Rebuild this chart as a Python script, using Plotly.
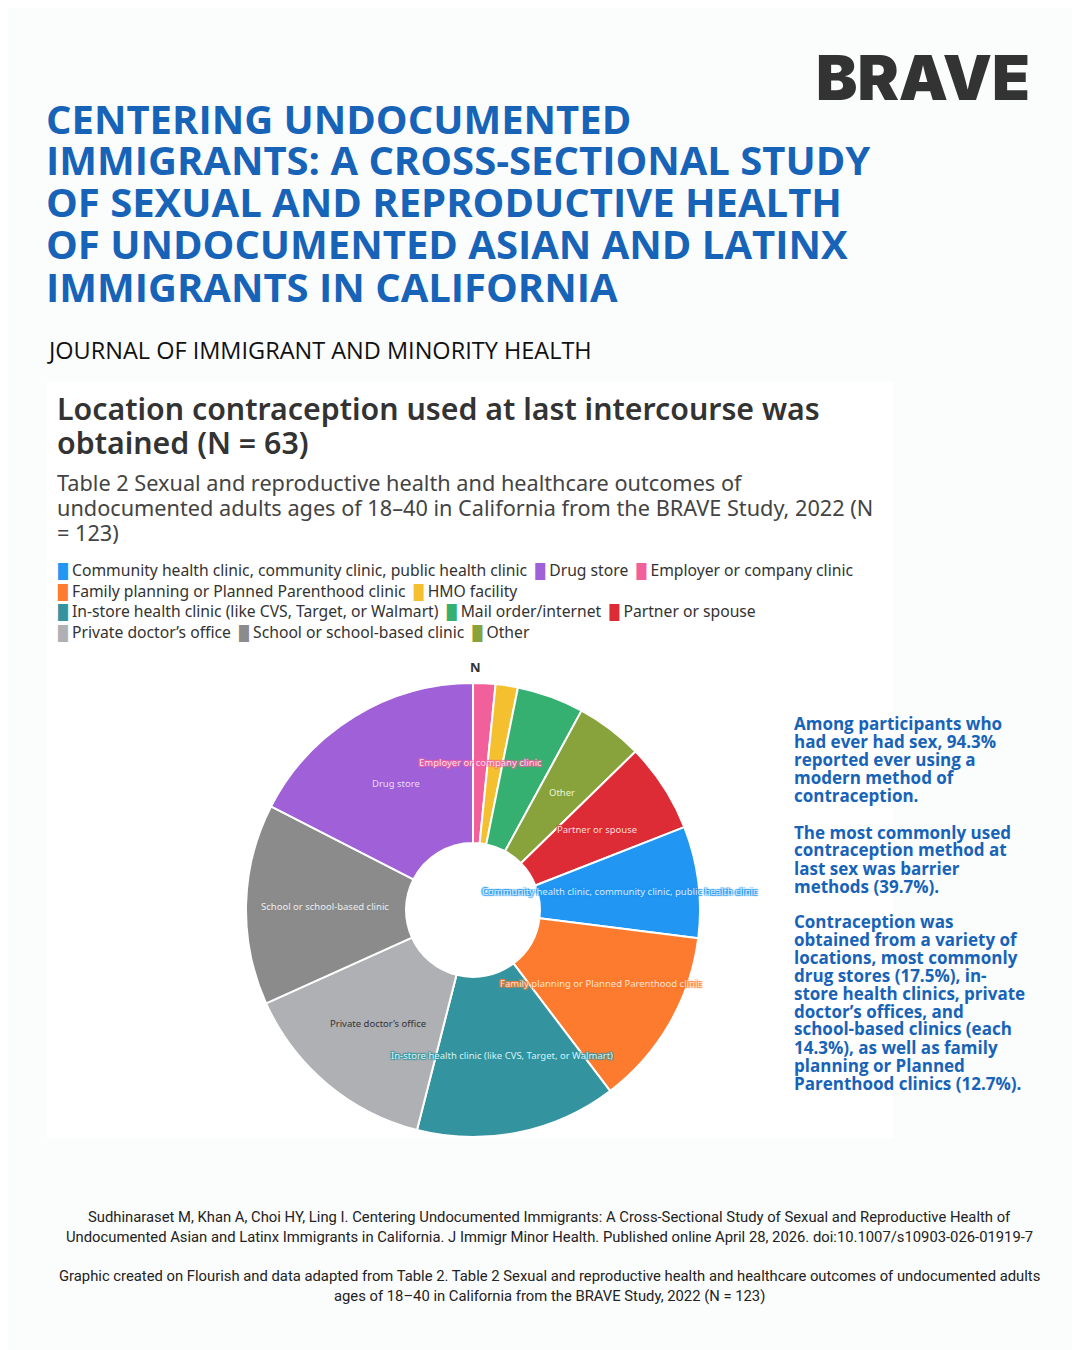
import math
import plotly.graph_objects as go

# ---------------- data ----------------
categories = [
    "Community health clinic, community clinic, public health clinic",
    "Drug store",
    "Employer or company clinic",
    "Family planning or Planned Parenthood clinic",
    "HMO facility",
    "In-store health clinic (like CVS, Target, or Walmart)",
    "Mail order/internet",
    "Partner or spouse",
    "Private doctor’s office",
    "School or school-based clinic",
    "Other",
]
counts = [5, 11, 1, 8, 1, 9, 3, 4, 9, 9, 3]
# order in which slices appear clockwise from 12 o'clock
slice_order = [
    "Employer or company clinic",
    "HMO facility",
    "Mail order/internet",
    "Other",
    "Partner or spouse",
    "Community health clinic, community clinic, public health clinic",
    "Family planning or Planned Parenthood clinic",
    "In-store health clinic (like CVS, Target, or Walmart)",
    "Private doctor’s office",
    "School or school-based clinic",
    "Drug store",
]
# slices whose label is shown inside the ring
labelled = [
    "Employer or company clinic",
    "Other",
    "Partner or spouse",
    "Community health clinic, community clinic, public health clinic",
    "Family planning or Planned Parenthood clinic",
    "In-store health clinic (like CVS, Target, or Walmart)",
    "Private doctor’s office",
    "School or school-based clinic",
    "Drug store",
]
legend_rows = [
    ["Community health clinic, community clinic, public health clinic", "Drug store", "Employer or company clinic"],
    ["Family planning or Planned Parenthood clinic", "HMO facility"],
    ["In-store health clinic (like CVS, Target, or Walmart)", "Mail order/internet", "Partner or spouse"],
    ["Private doctor’s office", "School or school-based clinic", "Other"],
]

# ---------------- styles ----------------
colors = {
    "Community health clinic, community clinic, public health clinic": "#2196f3",
    "Drug store": "#9f60d8",
    "Employer or company clinic": "#f2609c",
    "Family planning or Planned Parenthood clinic": "#fd7b2e",
    "HMO facility": "#f4c030",
    "In-store health clinic (like CVS, Target, or Walmart)": "#3394a0",
    "Mail order/internet": "#36b071",
    "Partner or spouse": "#dd2c35",
    "Private doctor’s office": "#aeb0b3",
    "School or school-based clinic": "#8b8b8b",
    "Other": "#88a33b",
}
label_text_colors = {
    "Community health clinic, community clinic, public health clinic": "#d6ebff",
    "Drug store": "#ecdcfa",
    "Employer or company clinic": "#ffdbe9",
    "Family planning or Planned Parenthood clinic": "#ffe2cf",
    "In-store health clinic (like CVS, Target, or Walmart)": "#d5f3f7",
    "Partner or spouse": "#ffdcdd",
    "Private doctor’s office": "#333333",
    "School or school-based clinic": "#ededed",
    "Other": "#eef5d8",
}

W, H = 1080, 1350
OFF = 8  # page offset of the figure inside the browser window
PAGE_BG = "#fbfcfc"
BLUE = "#1763b8"


def px(x):
    return (x - OFF) / W


def py(y):
    return 1 - (y - OFF) / H


value_of = dict(zip(categories, counts))
pie_vals = [value_of[c] for c in slice_order]
pie_cols = [colors[c] for c in slice_order]

# pie geometry (pixels)
CX, CY, R = 473, 910, 227
HOLE = 0.295

fig = go.Figure()
fig.add_trace(go.Pie(
    labels=slice_order,
    values=pie_vals,
    sort=False,
    direction="clockwise",
    rotation=0,
    hole=HOLE,
    marker=dict(colors=pie_cols, line=dict(color="white", width=2)),
    textinfo="none",
    hoverinfo="label+value",
    showlegend=False,
    domain=dict(x=[px(CX - R), px(CX + R)], y=[py(CY + R), py(CY - R)]),
))

ann = []


def add_text(x, y, text, size, color, family, weight=400, xanchor="left", shadow=None):
    f = dict(size=size, color=color, family=family, weight=weight)
    if shadow:
        f["shadow"] = shadow
    ann.append(dict(x=px(x), y=py(y), xref="paper", yref="paper", text=text,
                    showarrow=False, xanchor=xanchor, yanchor="middle", font=f, align="left"))


# ---- BRAVE logo ----
add_text(814, 77, "BRAVE", 62, "#333333", "Inter", weight=900)

# ---- header title ----
title_lines = [
    "CENTERING UNDOCUMENTED",
    "IMMIGRANTS: A CROSS-SECTIONAL STUDY",
    "OF SEXUAL AND REPRODUCTIVE HEALTH",
    "OF UNDOCUMENTED ASIAN AND LATINX",
    "IMMIGRANTS IN CALIFORNIA",
]
for i, t in enumerate(title_lines):
    add_text(44, 118 + 42 * i, t, 40, BLUE, "Open Sans", weight=700)

add_text(45, 350, "JOURNAL OF IMMIGRANT AND MINORITY HEALTH", 23.5, "#111111", "Open Sans", weight=400)

# ---- chart title & subtitle ----
CHART_FONT = "Noto Sans"
add_text(55, 408, "Location contraception used at last intercourse was", 30.3, "#333333", CHART_FONT, weight=600)
add_text(55, 443, "obtained (N = 63)", 30.3, "#333333", CHART_FONT, weight=600)
sub_lines = [
    "Table 2 Sexual and reproductive health and healthcare outcomes of",
    "undocumented adults ages of 18–40 in California from the BRAVE Study, 2022 (N",
    "= 123)",
]
for i, t in enumerate(sub_lines):
    add_text(55, 482 + 25 * i, t, 21.7, "#444444", CHART_FONT)

# ---- legend (built from the categories) ----
for r, row in enumerate(legend_rows):
    parts = []
    for c in row:
        parts.append(f"<span style='color:{colors[c]};font-size:14px'>█</span> {c}")
    add_text(56, 570 + 20.7 * r, "  ".join(parts), 15.7, "#333333", CHART_FONT)

# ---- pie centre title "N" ----
add_text(CX + 2, 667, "<b>N</b>", 13, "#333333", CHART_FONT, xanchor="center")

# ---- slice labels at mid-angle / mid-ring ----
total = sum(pie_vals)
cum = 0
r_mid = R * (1 + HOLE) / 2 + 1
for c, v in zip(slice_order, pie_vals):
    mid = (cum + v / 2) / total * 2 * math.pi
    cum += v
    if c not in labelled:
        continue
    lx = CX + r_mid * math.sin(mid)
    ly = CY - r_mid * math.cos(mid)
    col = colors[c]
    sh = f"1px 1px 1px {col}, -1px -1px 1px {col}, 1px -1px 1px {col}, -1px 1px 1px {col}"
    if c == "Private doctor’s office":
        sh = None
    add_text(lx, ly, c, 9.5, label_text_colors[c], CHART_FONT, xanchor="center", shadow=sh)

# ---- right-side commentary ----
para_lines = [
    ["Among participants who", "had ever had sex, 94.3%", "reported ever using a",
     "modern method of", "contraception."],
    ["The most commonly used", "contraception method at", "last sex was barrier",
     "methods (39.7%)."],
    ["Contraception was", "obtained from a variety of", "locations, most commonly",
     "drug stores (17.5%), in-", "store health clinics, private", "doctor’s offices, and",
     "school-based clinics (each", "14.3%), as well as family", "planning or Planned",
     "Parenthood clinics (12.7%)."],
]
starts = [723, 832, 921]
for p, lines in enumerate(para_lines):
    for i, t in enumerate(lines):
        add_text(792, starts[p] + 18 * i, t, 17, BLUE, "Open Sans", weight=700)

# ---- footer ----
foot = [
    (1217, "Sudhinaraset M, Khan A, Choi HY, Ling I. Centering Undocumented Immigrants: A Cross-Sectional Study of Sexual and Reproductive Health of"),
    (1237, "Undocumented Asian and Latinx Immigrants in California. J Immigr Minor Health. Published online April 28, 2026. doi:10.1007/s10903-026-01919-7"),
    (1276, "Graphic created on Flourish and data adapted from Table 2. Table 2 Sexual and reproductive health and healthcare outcomes of undocumented adults"),
    (1296, "ages of 18–40 in California from the BRAVE Study, 2022 (N = 123)"),
]
for y, t in foot:
    add_text(549, y, t, 14.8, "#222222", "Roboto", xanchor="center")

fig.update_layout(
    width=W, height=H,
    margin=dict(l=0, r=0, t=0, b=0),
    paper_bgcolor=PAGE_BG,
    plot_bgcolor=PAGE_BG,
    annotations=ann,
    shapes=[dict(type="rect", xref="paper", yref="paper",
                 x0=px(47), x1=px(893), y0=py(1138), y1=py(382),
                 fillcolor="white", line=dict(width=0), layer="below")],
    showlegend=False,
)

fig.write_html("out.html")
